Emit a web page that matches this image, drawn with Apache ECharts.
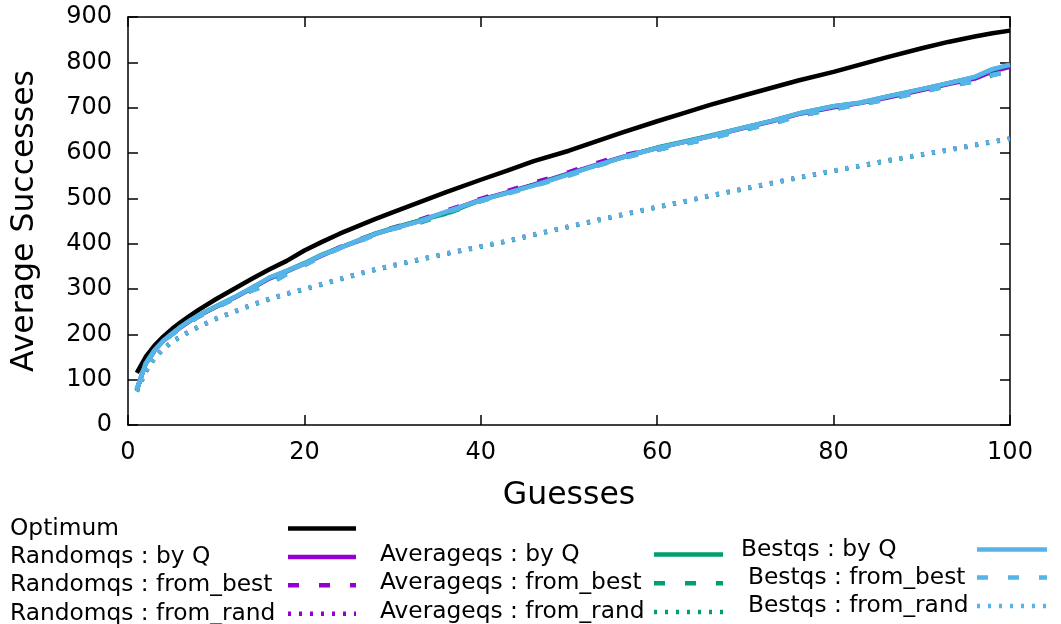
<!DOCTYPE html>
<html>
<head>
<meta charset="utf-8">
<title>Average Successes vs Guesses</title>
<script src="https://cdn.jsdelivr.net/npm/echarts@6/dist/echarts.min.js"></script>
<style>
  html, body { margin: 0; padding: 0; background: #fff; }
  #chart { width: 1061px; height: 624px; }
</style>
</head>
<body>
<div id="chart"></div>
<script>
// Number of guesses (x values shared by every curve)
const guesses = [1,2,3,4,5,6,7,8,10,12,14,16,18,20,22,24,26,28,30,33,36,40,43,46,50,53,56,60,63,66,70,73,76,80,83,86,90,93,96,98,100];

const optimum = [115,150,175,195,212,227,241,254,278,300,322,343,362,385,404,422,438,454,469,491,513,541,561,582,605,625,645,670,688,706,728,744,760,779,795,811,831,845,857,864,870];

const randomByQ = [78,135,165,186,202,216,229,241,261,280,301,323,339,356,374,391,405,421,433,450,469,497,513,530,555,573,591,611,624,637,656,670,686,701,710,722,739,752,764,780,790];
const randomFromBest = [78,134,164,185,201,215,228,240,260,279,299,313,336,354,374,392,407,422,435,452,472,499,516,534,558,577,594,610,623,635,654,667,684,699,709,720,737,750,760,774,782];
const randomFromRand = [75,118,148,168,184,196,207,217,235,250,265,278,290,300,311,322,333,343,352,365,378,394,406,420,438,451,464,481,493,506,522,534,546,561,572,583,597,607,618,625,632];

const averageByQ = [78,136,165,186,202,217,230,242,262,281,302,324,340,357,376,391,406,422,434,451,466,496,512,529,554,572,590,612,625,638,657,671,687,703,711,724,741,754,767,784,794];
const averageFromBest = [77,134,163,184,200,214,227,239,259,278,297,311,334,353,373,390,404,420,433,446,465,494,511,528,551,571,589,607,620,632,652,665,682,697,707,718,735,748,758,772,780];
const averageFromRand = [74,117,147,167,183,195,206,216,234,249,264,277,289,299,310,321,332,342,351,364,377,393,405,419,437,450,463,480,492,505,521,533,545,560,571,582,596,606,617,624,631];

const bestByQ = [78,135,165,186,202,217,230,242,262,281,302,325,340,356,375,390,406,421,433,449,470,496,512,528,553,572,590,611,624,637,657,671,687,703,711,724,741,754,768,785,795];
const bestFromBest = [78,135,163,184,200,214,227,239,259,278,296,310,333,352,372,390,404,419,432,447,468,494,510,527,550,570,588,607,620,632,652,664,682,697,707,718,735,748,758,772,780];
const bestFromRand = [75,118,148,168,184,196,207,217,235,250,265,278,290,300,311,322,333,343,352,365,378,394,406,420,438,451,464,481,493,506,522,534,546,561,572,583,597,607,618,625,632];

// Axis ticks
const xTicks = [0, 20, 40, 60, 80, 100];
const yTicks = [0, 100, 200, 300, 400, 500, 600, 700, 800, 900];

const FONT = 'DejaVu Sans';
const PURPLE = '#9400d3', GREEN = '#009e73', BLUE = '#56b4e9', BLACK = '#000000';
const DASH = [11, 20];
const DOT = [3, 8];
const LW = 4.5;

function pairs(ys) { return guesses.map((g, i) => [g, ys[i]]); }

function lineSeries(name, ys, color, type) {
  return {
    name: name,
    type: 'line',
    data: pairs(ys),
    symbol: 'none',
    smooth: false,
    silent: true,
    lineStyle: { color: color, width: LW, type: type, cap: 'butt', join: 'round' },
    itemStyle: { color: color },
    emphasis: { disabled: true },
    animation: false
  };
}

const series = [
  lineSeries('Optimum', optimum, BLACK, 'solid'),
  lineSeries('Randomqs : by Q', randomByQ, PURPLE, 'solid'),
  lineSeries('Randomqs : from_best', randomFromBest, PURPLE, DASH),
  lineSeries('Randomqs : from_rand', randomFromRand, PURPLE, DOT),
  lineSeries('Averageqs : by Q', averageByQ, GREEN, 'solid'),
  lineSeries('Averageqs : from_best', averageFromBest, GREEN, DASH),
  lineSeries('Averageqs : from_rand', averageFromRand, GREEN, DOT),
  lineSeries('Bestqs : by Q', bestByQ, BLUE, 'solid'),
  lineSeries('Bestqs : from_best', bestFromBest, BLUE, DASH),
  lineSeries('Bestqs : from_rand', bestFromRand, BLUE, DOT)
];

const LEGEND_FONT = 23.3;

// One key block: text on the left, line sample on the right
function legendColumn(names, left, top, textWidth, iconWidth, gap) {
  return {
    data: names,
    orient: 'vertical',
    align: 'right',
    left: left,
    top: top,
    height: 160,
    padding: 0,
    itemGap: gap,
    itemWidth: iconWidth,
    itemHeight: 20,
    selectedMode: false,
    itemStyle: { opacity: 0 },
    lineStyle: { width: 4.5 },
    formatter: '{t|{name}}',
    textStyle: {
      color: '#000',
      fontFamily: FONT,
      fontSize: LEGEND_FONT,
      rich: { t: { width: textWidth, align: 'left', fontFamily: FONT, fontSize: LEGEND_FONT, lineHeight: 20, color: '#000' } }
    }
  };
}

const axisLineStyle = { color: '#000', width: 1.5 };

const option = {
  backgroundColor: '#fff',
  animation: false,
  grid: { left: 128, right: 51, top: 17, bottom: 199, containLabel: false },
  xAxis: [
    {
      type: 'value', min: 0, max: 100, interval: 20, position: 'bottom',
      name: 'Guesses', nameLocation: 'middle', nameGap: 55,
      nameTextStyle: { fontFamily: FONT, fontSize: 31.5, color: '#000' },
      axisLine: { show: true, onZero: false, lineStyle: axisLineStyle },
      axisTick: { show: true, inside: true, length: 10, lineStyle: axisLineStyle },
      axisLabel: { show: true, margin: 16, fontFamily: FONT, fontSize: 24, color: '#000',
        formatter: v => xTicks.includes(v) ? String(v) : '' },
      splitLine: { show: false }
    },
    {
      type: 'value', min: 0, max: 100, interval: 20, position: 'top',
      axisLine: { show: true, onZero: false, lineStyle: axisLineStyle },
      axisTick: { show: true, inside: true, length: 10, lineStyle: axisLineStyle },
      axisLabel: { show: false },
      splitLine: { show: false }
    }
  ],
  yAxis: [
    {
      type: 'value', min: 0, max: 900, interval: 100, position: 'left',
      name: 'Average Successes', nameLocation: 'middle', nameGap: 87, nameRotate: 90,
      nameTextStyle: { fontFamily: FONT, fontSize: 31.5, color: '#000' },
      axisLine: { show: true, onZero: false, lineStyle: axisLineStyle },
      axisTick: { show: true, inside: true, length: 10, lineStyle: axisLineStyle },
      axisLabel: { show: true, margin: 16, fontFamily: FONT, fontSize: 24, color: '#000',
        formatter: v => yTicks.includes(v) ? String(v) : '' },
      splitLine: { show: false }
    },
    {
      type: 'value', min: 0, max: 900, interval: 100, position: 'right',
      axisLine: { show: true, onZero: false, lineStyle: axisLineStyle },
      axisTick: { show: true, inside: true, length: 10, lineStyle: axisLineStyle },
      axisLabel: { show: false },
      splitLine: { show: false }
    }
  ],
  legend: [
    legendColumn(['Optimum', 'Randomqs : by Q', 'Randomqs : from_best', 'Randomqs : from_rand'], 10, 517, 273, 68, 5.4),
    legendColumn(['Averageqs : by Q', 'Averageqs : from_best', 'Averageqs : from_rand'], 380, 543, 269, 69, 5.7),
    legendColumn(['Bestqs : by Q'], 741, 538, 231, 70, 5.5),
    legendColumn(['Bestqs : from_best', 'Bestqs : from_rand'], 748, 566, 224, 70, 5.5)
  ],
  series: series
};

const chart = echarts.init(document.getElementById('chart'), null, { renderer: 'canvas' });
chart.setOption(option);
</script>
</body>
</html>
